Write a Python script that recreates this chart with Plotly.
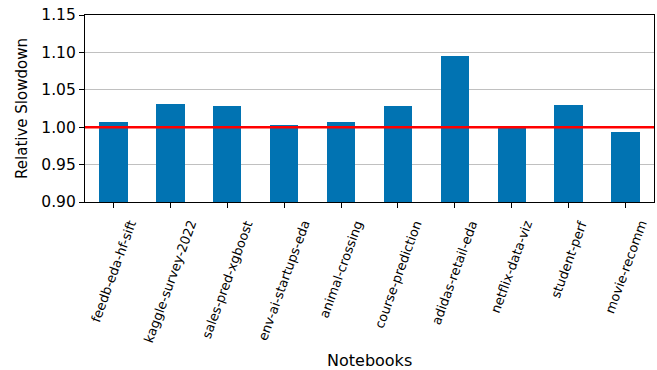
import plotly.graph_objects as go

notebooks = ["feedb-eda-hf-sift", "kaggle-survey-2022", "sales-pred-xgboost",
             "env-ai-startups-eda", "animal-crossing", "course-prediction",
             "adidas-retail-eda", "netflix-data-viz", "student-perf", "movie-recomm"]
slowdown = [1.007, 1.031, 1.0285, 1.003, 1.007, 1.0285, 1.095, 1.001, 1.030, 0.9935]
baseline = 1.0
y_ticks = [0.90, 0.95, 1.00, 1.05, 1.10, 1.15]
y_tick_text = ["0.90", "0.95", "1.00", "1.05", "1.10", "1.15"]

FONT = "DejaVu Sans"
H, T, B = 370, 15, 168
plot_h = H - T - B

fig = go.Figure()
fig.add_trace(go.Bar(x=list(range(len(notebooks))), y=slowdown, width=0.5,
                     marker=dict(color="#0173b2", line=dict(width=0)),
                     base=0, showlegend=False))
fig.add_shape(type="line", xref="paper", x0=0, x1=1, yref="y", y0=baseline, y1=baseline,
              line=dict(color="#ff0000", width=2.4), layer="above")

for i, name in enumerate(notebooks):
    fig.add_annotation(x=i, xref="x", y=0, yref="paper", yshift=-14,
                       text=name, showarrow=False, textangle=-70,
                       xanchor="center", yanchor="top",
                       font=dict(family=FONT, size=13, color="#000000"))

fig.add_annotation(x=0.5, xref="paper", y=-(360 - (H - B)) / plot_h, yref="paper",
                   text="Notebooks", showarrow=False, xanchor="center", yanchor="middle",
                   font=dict(family=FONT, size=16, color="#000000"))

fig.update_layout(
    width=657, height=H,
    margin=dict(l=85, r=3, t=T, b=B),
    plot_bgcolor="white", paper_bgcolor="white",
    font=dict(family=FONT, size=15, color="#000000"),
    bargap=0,
    xaxis=dict(range=[-0.5, len(notebooks) - 0.5], tickmode="array",
               tickvals=list(range(len(notebooks))), ticktext=[""] * len(notebooks),
               ticks="outside", ticklen=5, tickwidth=1.2, tickcolor="#000",
               showline=True, linecolor="#000", linewidth=1.2, mirror=True,
               showgrid=False, zeroline=False),
    yaxis=dict(range=[0.90, 1.15], tickmode="array", tickvals=y_ticks, ticktext=y_tick_text,
               ticks="outside", ticklen=5, tickwidth=1.2, tickcolor="#000",
               showline=True, linecolor="#000", linewidth=1.2, mirror=True,
               showgrid=True, gridcolor="#c0c0c0", gridwidth=1.2, zeroline=False,
               tickfont=dict(size=15.5),
               title=dict(text="Relative Slowdown", font=dict(size=15), standoff=10)),
)

fig.write_html("out.html")
